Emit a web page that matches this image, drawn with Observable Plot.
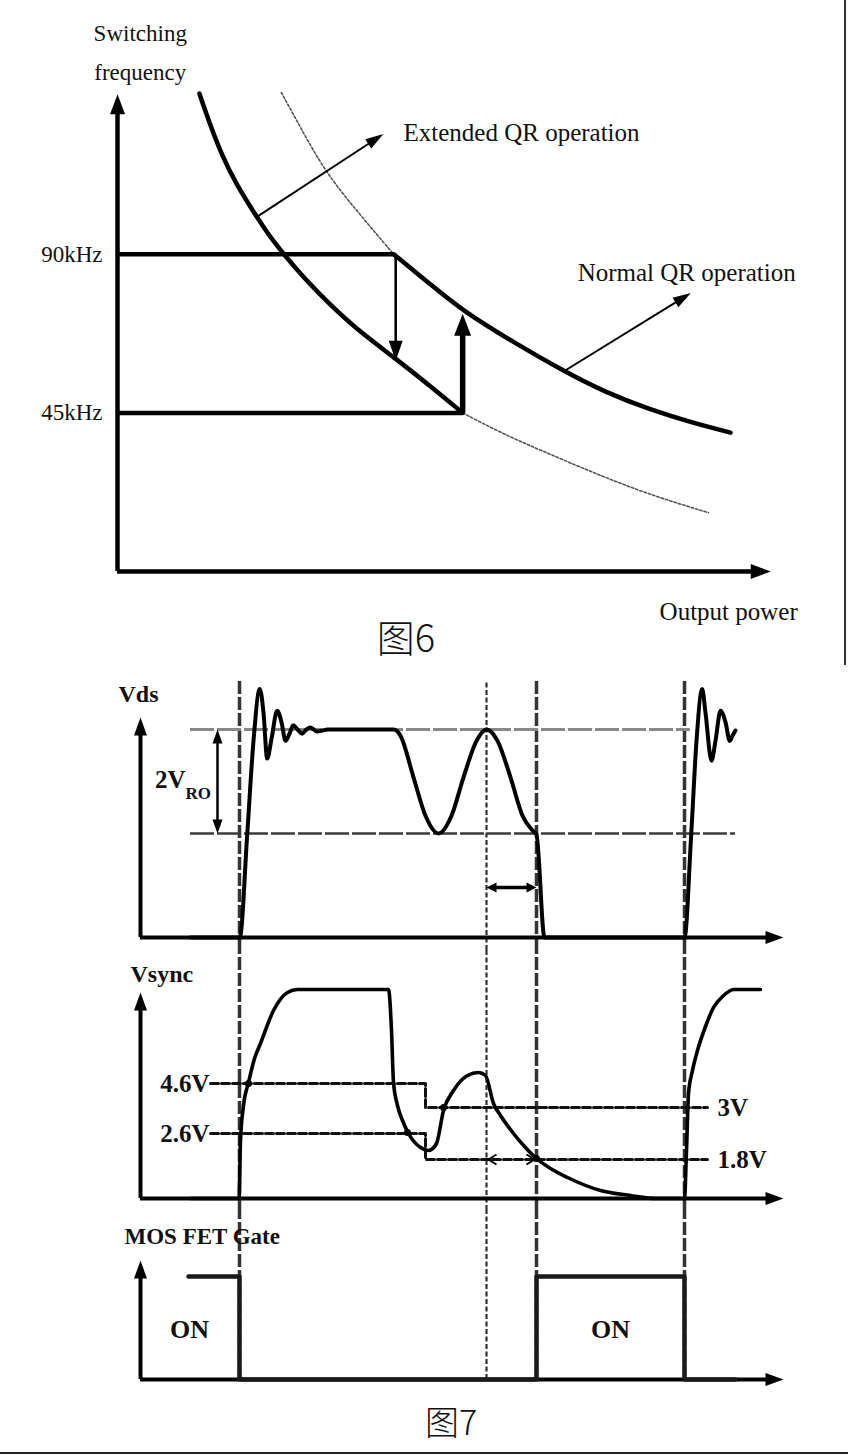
<!DOCTYPE html>
<html><head><meta charset="utf-8">
<script src="https://cdn.jsdelivr.net/npm/d3@7"></script>
<script src="https://cdn.jsdelivr.net/npm/@observablehq/plot@0.6"></script>
<style>
html,body{margin:0;padding:0;background:#fff;}
#root{position:relative;width:848px;height:1456px;overflow:hidden;background:#fff;}
#root svg{display:block;}
.cap{position:absolute;transform:translate(-50%,-50%);font-family:"Noto Sans CJK SC";font-weight:300;color:#111;white-space:nowrap;line-height:1;}
.edge{position:absolute;background:#333;}
</style>
</head><body><div id="root"></div>
<script>
// ================= Figure 6 data (x: output power, arbitrary 0-100; y: switching frequency, kHz) =================
const extendedCurve = [[12.6,135.6],[14.3,126.5],[16.15,117.7],[18.3,109.8],[20.8,102.4],[23.2,95.6],[25.5,90.2],[28.9,82.8],[32.8,75.5],[37.4,67.8],[42.8,60.4],[48.2,52.5],[53.1,45]];
const extendedDotted = [[53.1,45],[58.9,39.4],[65.2,34.3],[73.5,27.8],[81.8,21.8],[90.9,16.7]];
const normalDotted = [[25.2,135.9],[28.15,126.0],[32.0,113.2],[37.4,101.0],[42.5,90]];
const normalCurve = [[42.5,90],[48.2,81.4],[53.1,74.0],[60.5,65.5],[68.5,57.0],[75.1,50.8],[81.8,46.0],[88.2,42.3],[94.3,39.4]];
const freqLevels = [90, 45];
const freqLabels = ["90kHz", "45kHz"];
const freqLevelEnds = [42.5, 53.1];
const downArrow = {p: 42.8, from: 90, to: 59.8};
const upArrow = {p: 53.1, from: 45, to: 73.1};
const calloutArrows = [{p1: 21.5, f1: 100.7, p2: 40.9, f2: 124.1}, {p1: 68.5, f1: 56.6, p2: 88.2, f2: 79.0}];
const fig6Texts = ["Switching", "frequency", "Extended QR operation", "Normal QR operation", "Output power"];
const fig6TextAt = [[3.5,152.7],[3.5,141.6],[44.0,124.4],[70.8,84.7],[83.4,-11.6]];
const fig6AxisTip = {p: 100.5, f: 135.4};

// ================= Figure 7 data (x: time, arbitrary units) =================
const eventBold = [9.9, 39.6, 54.4];
const eventFine = [34.6];
// Vds (level units: Vin-VRO = 100, Vin+VRO = 200)
const vdsWave = [[5.0,0],[9.93,0],[10.67,99],[11.3,189],[11.93,239],[12.3,216],[12.67,172],[13.1,191],[13.67,218],[14.1,207],[14.5,189],[14.9,196],[15.27,204],[15.7,200],[16.17,196],[16.6,200],[17.0,202],[17.67,198],[18.2,199],[18.7,200],[25.3,200],[26.0,194],[27.3,154],[28.5,117],[29.8,100],[31.1,117],[32.3,154],[33.6,189],[34.6,200],[35.7,189],[37.0,154],[38.2,117],[39.3,102],[39.6,99],[40.4,0],[54.4,0],[55.07,99],[55.6,189],[56.17,239],[56.5,216],[57.1,170],[57.5,189],[58.0,218],[58.5,207],[58.93,189],[59.2,194],[59.5,199]];
const vdsLevelHigh = {v: 200, from: 5, to: 55};
const vdsLevelLow = {v: 100, from: 5, to: 59.5};
const vroArrow = {t: 7.7, lo: 100, hi: 200};
const vdsDelay = {v: 48.1, from: 34.6, to: 39.6};
const vdsAxisTip = {t: 64.3, v: 211.5};
// Vsync (volts)
const syncWave = [[5.0,0],[9.85,0],[10.0,2.32],[10.3,3.72],[10.8,4.64],[11.4,5.6],[12.0,6.2],[13.3,7.52],[14.7,8.24],[15.7,8.36],[24.8,8.36],[25.1,6.72],[25.3,4.64],[25.7,3.72],[26.2,3.12],[26.8,2.6],[28.0,2.04],[28.8,1.92],[29.6,2.2],[30.3,3.52],[31.3,4.32],[32.7,4.92],[33.8,5.04],[34.5,4.92],[35.3,3.8],[36.0,3.32],[37.3,2.6],[38.4,2.08],[39.6,1.6],[41.0,1.2],[42.7,0.84],[46.0,0.32],[49.0,0.12],[51.5,0],[54.4,0],[54.6,1.92],[54.8,4.2],[55.2,5.12],[55.7,5.92],[56.5,6.88],[57.3,7.64],[58.2,8.08],[59.3,8.36],[62.0,8.36]];
const syncThresholdLabels = ["4.6V", "2.6V"];
const syncThresholdLevels = [4.6, 2.6];
const syncNextLabels = ["3V", "1.8V"];
const syncNextLevels = [3.64, 1.56];   // drawn positions in the figure
const syncStep = {from: 7.0, at: 28.5, to: 56.7};
const syncMarks = [[10.8,4.6],[26.7,2.64],[30.3,3.64],[39.6,1.6]];
const syncDelay = {v: 1.56, from: 34.8, to: 39.4};
const syncAxisTip = {t: 64.3, v: 8.24};
// MOSFET gate (0 = off, 1 = on)
const gateWave = [[4.8,1],[9.9,1],[9.9,0],[39.6,0],[39.6,1],[54.4,1],[54.4,0],[59.5,0]];
const gateOnLabels = [4.9, 47.0];
const gateAxisTip = {t: 64.3, g: 1.155};

// ================= helpers =================
const SERIF = "Liberation Serif";
function headSymbol(deg, len, wid) {
  const a = deg * Math.PI / 180, c = Math.cos(a), s = Math.sin(a);
  const p = [[0,0],[-len,-wid/2],[-len,wid/2]].map(([x,y]) => [x*c - y*s, x*s + y*c]);
  return {draw(ctx) { ctx.moveTo(p[0][0], p[0][1]); ctx.lineTo(p[1][0], p[1][1]); ctx.lineTo(p[2][0], p[2][1]); ctx.closePath(); }};
}
function chevronSymbol(deg, len, wid) {
  const a = deg * Math.PI / 180, c = Math.cos(a), s = Math.sin(a);
  const p = [[-len,-wid/2],[0,0],[-len,wid/2]].map(([x,y]) => [x*c - y*s, x*s + y*c]);
  return {draw(ctx) { ctx.moveTo(p[0][0], p[0][1]); ctx.lineTo(p[1][0], p[1][1]); ctx.lineTo(p[2][0], p[2][1]); }};
}
function head(x, y, deg, len, wid, fill = "black") {
  return Plot.dot([0], {x: () => x, y: () => y, r: 1, symbol: headSymbol(deg, len, wid), fill, stroke: "none"});
}
const pts = (arr, kx, ky) => arr.map(([a, b]) => ({[kx]: a, [ky]: b}));

const root = document.getElementById("root");

// ================= Figure 6 =================
{
  const W = 848, H = 660, ML = 117, MR = 81, MB = 89, xMax = 100, yMax = 162;
  const kx = (W - ML - MR) / xMax, ky = (H - MB) / yMax;
  const L = 20, WD = 15;
  const levels = freqLevels.map((f, i) => ({f, label: freqLabels[i], end: freqLevelEnds[i]}));
  const texts = fig6Texts.map((t, i) => ({t, p: fig6TextAt[i][0], f: fig6TextAt[i][1]}));
  const dotted = {stroke: "#555", strokeWidth: 1.6, strokeDasharray: "2.5,2", curve: "basis", x: "p", y: "f"};
  const solid = {stroke: "black", strokeWidth: 4.5, curve: "basis", x: "p", y: "f"};
  const marks = [
    Plot.line(pts(normalDotted, "p", "f"), dotted),
    Plot.line(pts(extendedDotted, "p", "f"), dotted),
    Plot.ruleY(levels, {y: "f", x1: 0, x2: "end", stroke: "black", strokeWidth: 4.5}),
    Plot.line(pts(extendedCurve, "p", "f"), solid),
    Plot.line(pts(normalCurve, "p", "f"), solid),
    // axes
    Plot.ruleX([0], {y1: 0, y2: fig6AxisTip.f - (L - 3) / ky, stroke: "black", strokeWidth: 4.5}),
    Plot.ruleY([0], {x1: 0, x2: fig6AxisTip.p - (L - 3) / kx, stroke: "black", strokeWidth: 4.5}),
    head(0, fig6AxisTip.f, -90, L, WD),
    head(fig6AxisTip.p, 0, 0, L, WD),
    // transition arrows
    Plot.ruleX([downArrow], {x: "p", y1: "from", y2: d => d.to + 18 / ky, stroke: "black", strokeWidth: 2.6}),
    head(downArrow.p, downArrow.to, 90, 20, 14),
    Plot.ruleX([upArrow], {x: "p", y1: "from", y2: d => d.to - 18 / ky, stroke: "black", strokeWidth: 5.5}),
    head(upArrow.p, upArrow.to, -90, 22, 17),
    // callout arrows
    ...calloutArrows.flatMap(a => {
      const dx = (a.p2 - a.p1) * kx, dy = -(a.f2 - a.f1) * ky;
      const len = Math.hypot(dx, dy), deg = Math.atan2(dy, dx) * 180 / Math.PI;
      const t = (len - 14) / len;
      return [
        Plot.link([a], {x1: "p1", y1: "f1", x2: d => d.p1 + (d.p2 - d.p1) * t, y2: d => d.f1 + (d.f2 - d.f1) * t, stroke: "black", strokeWidth: 2}),
        head(a.p2, a.f2, deg, 18, 11)
      ];
    }),
    // labels
    Plot.text(levels, {x: -2.3, y: "f", text: "label", textAnchor: "end", fontFamily: SERIF, fontSize: 23, fill: "#111"}),
    Plot.text(texts.slice(0, 2), {x: "p", y: "f", text: "t", textAnchor: "middle", fontFamily: SERIF, fontSize: 23, fill: "#111"}),
    Plot.text(texts.slice(2), {x: "p", y: "f", text: "t", textAnchor: "start", fontFamily: SERIF, fontSize: 25, fill: "#111"})
  ];
  root.appendChild(Plot.plot({
    width: W, height: H, marginLeft: ML, marginRight: MR, marginTop: 0, marginBottom: MB,
    x: {domain: [0, xMax], axis: null}, y: {domain: [0, yMax], axis: null}, marks
  }));
}

// ================= Figure 7 =================
const X7 = {W: 848, ML: 140, MR: 65, xMax: 64.3};
const kx7 = (X7.W - X7.ML - X7.MR) / X7.xMax;
const bold = {fontFamily: SERIF, fontWeight: "bold", fill: "#111"};
function eventRules(y1, y2) {
  return [
    Plot.ruleX(eventBold, {y1, y2, stroke: "#333", strokeWidth: 3.5, strokeDasharray: "13,3"}),
    Plot.ruleX(eventFine, {y1, y2, stroke: "#333", strokeWidth: 2.2, strokeDasharray: "5,2.5"})
  ];
}
function panel(H, MB, yMax, marks) {
  return Plot.plot({
    width: X7.W, height: H, marginLeft: X7.ML, marginRight: X7.MR, marginTop: 0, marginBottom: MB,
    x: {domain: [0, X7.xMax], axis: null}, y: {domain: [0, yMax], axis: null}, marks
  });
}
function axes(tipT, tipY, ky) {
  const L = 18, WD = 13;
  return [
    Plot.ruleX([0], {y1: 0, y2: tipY - (L - 3) / ky, stroke: "black", strokeWidth: 4}),
    Plot.ruleY([0], {x1: 0, x2: tipT - (L - 3) / kx7, stroke: "black", strokeWidth: 4}),
    head(0, tipY, -90, L, WD),
    head(tipT, 0, 0, L, WD)
  ];
}

// ---- Vds panel ----
{
  const H = 290, MB = 13, yMax = 266.3, ky = (H - MB) / yMax;
  const marks = [
    ...eventRules(-12.5, 247),
    Plot.ruleY([vdsLevelHigh], {y: "v", x1: "from", x2: "to", stroke: "#888", strokeWidth: 3, strokeDasharray: "24,3"}),
    Plot.ruleY([vdsLevelLow], {y: "v", x1: "from", x2: "to", stroke: "#3a3a3a", strokeWidth: 2.6, strokeDasharray: "24,3"}),
    ...axes(vdsAxisTip.t, vdsAxisTip.v, ky),
    Plot.line(pts(vdsWave, "t", "v"), {x: "t", y: "v", curve: "monotone-x", stroke: "black", strokeWidth: 4}),
    // 2VRO arrow
    Plot.ruleX([vroArrow], {x: "t", y1: d => d.lo + 12 / ky, y2: d => d.hi - 12 / ky, stroke: "black", strokeWidth: 2.5}),
    head(vroArrow.t, vroArrow.hi, -90, 14, 10),
    head(vroArrow.t, vroArrow.lo, 90, 14, 10),
    // delay arrow
    Plot.ruleY([vdsDelay], {y: "v", x1: d => d.from + 7 / kx7, x2: d => d.to - 7 / kx7, stroke: "black", strokeWidth: 3.5}),
    head(vdsDelay.from, vdsDelay.v, 180, 10, 10),
    head(vdsDelay.to, vdsDelay.v, 0, 10, 10),
    // labels
    Plot.text(["Vds"], {x: -2.2, y: 233.7, text: d => d, textAnchor: "start", fontSize: 24, ...bold}),
    Plot.text(["2V"], {x: 4.5, y: 151, text: d => d, textAnchor: "end", fontSize: 25, ...bold}),
    Plot.text(["RO"], {x: 4.5, y: 138, text: d => d, textAnchor: "start", fontSize: 17, ...bold})
  ];
  root.appendChild(panel(H, MB, yMax, marks));
}

// ---- Vsync panel ----
{
  const H = 260, MB = 12, yMax = 9.92, ky = (H - MB) / yMax;
  const steps = syncThresholdLevels.flatMap((v, i) => [
    {t: syncStep.from, v, z: i}, {t: syncStep.at, v, z: i},
    {t: syncStep.at, v: syncNextLevels[i], z: i}, {t: syncStep.to, v: syncNextLevels[i], z: i}
  ]);
  const leftLabels = syncThresholdLevels.map((v, i) => ({v, label: syncThresholdLabels[i]}));
  const rightLabels = syncNextLevels.map((v, i) => ({v, label: syncNextLabels[i]}));
  const marks = [
    ...eventRules(-0.48, yMax),
    Plot.line(steps, {x: "t", y: "v", z: "z", stroke: "#111", strokeWidth: 3, strokeDasharray: "8,3"}),
    ...axes(syncAxisTip.t, syncAxisTip.v, ky),
    Plot.line(pts(syncWave, "t", "v"), {x: "t", y: "v", curve: "monotone-x", stroke: "black", strokeWidth: 3.6}),
    Plot.dot(pts(syncMarks, "t", "v"), {x: "t", y: "v", r: 3.5, fill: "black"}),
    Plot.dot([syncDelay], {x: "from", y: "v", r: 1, symbol: chevronSymbol(180, 8, 10), fill: "none", stroke: "black", strokeWidth: 2}),
    Plot.dot([syncDelay], {x: "to", y: "v", r: 1, symbol: chevronSymbol(0, 8, 10), fill: "none", stroke: "black", strokeWidth: 2}),
    Plot.text(["Vsync"], {x: -1.0, y: 8.96, text: d => d, textAnchor: "start", fontSize: 24, ...bold}),
    Plot.text(leftLabels, {x: syncStep.from - 0.1, y: "v", text: "label", textAnchor: "end", fontSize: 25, ...bold}),
    Plot.text(rightLabels, {x: syncStep.to + 1.0, y: "v", text: "label", textAnchor: "start", fontSize: 25, ...bold})
  ];
  root.appendChild(panel(H, MB, yMax, marks));
}

// ---- Gate panel ----
{
  const H = 246, MB = 77, yMax = 1.6408, ky = (H - MB) / yMax;
  const marks = [
    ...eventRules(0, yMax),
    ...axes(gateAxisTip.t, gateAxisTip.g, ky),
    Plot.line(pts(gateWave, "t", "g"), {x: "t", y: "g", stroke: "#1a1a1a", strokeWidth: 4.5}),
    Plot.text(["MOS FET Gate"], {x: -1.6, y: 1.39, text: d => d, textAnchor: "start", fontSize: 23, ...bold}),
    Plot.text(gateOnLabels, {x: d => d, y: 0.48, text: () => "ON", textAnchor: "middle", fontSize: 26, ...bold})
  ];
  root.appendChild(panel(H, MB, yMax, marks));
}

// captions and frame edges
function addDiv(cls, css, text) {
  const d = document.createElement("div");
  d.className = cls; d.style.cssText = css; if (text) d.textContent = text;
  root.appendChild(d);
}
addDiv("cap", "left:406px;top:636px;font-size:38px;", "图6");
addDiv("cap", "left:451px;top:1421px;font-size:34px;", "图7");
addDiv("edge", "left:844px;top:0;width:2px;height:665px;");
addDiv("edge", "left:0;top:1452px;width:848px;height:2px;background:#222;");
</script>
</body></html>
